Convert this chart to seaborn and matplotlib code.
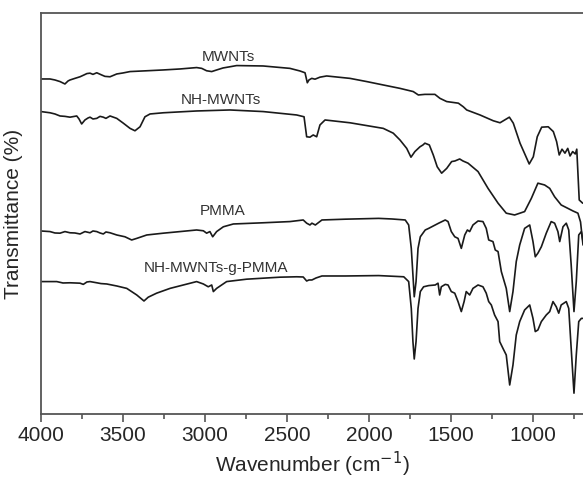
import matplotlib
matplotlib.use("Agg")
import matplotlib.pyplot as plt
import seaborn as sns
import pandas as pd
from matplotlib.ticker import MultipleLocator

# FTIR spectra (wavenumber in cm-1, transmittance in arbitrary offset units)
mwnts_wn = [4000, 3945, 3915, 3884, 3854, 3835, 3823, 3793, 3762, 3738, 3720, 3701, 3683, 3660,
            3630, 3610, 3579, 3538, 3500, 3457, 3355, 3256, 3152, 3051, 3020, 2990, 2959, 2929,
            2890, 2848, 2807, 2646, 2482, 2421, 2390, 2376, 2366, 2349, 2329, 2299, 2258, 2116,
            2014, 1913, 1811, 1730, 1699, 1659, 1628, 1598, 1567, 1526, 1455, 1425, 1404, 1323,
            1242, 1201, 1144, 1120, 1079, 1023, 998, 974, 947, 907, 876, 856, 840, 823, 805, 788,
            774, 758, 742, 733, 718, 697]
mwnts_t = [83.75, 83.75, 83.5, 83.1, 82.5, 83.25, 83.5, 83.9, 84.3, 84.75, 85.1, 85.2, 84.9, 85.3,
           84.75, 84.4, 84.3, 85.0, 85.25, 85.6, 85.8, 86.0, 86.25, 86.6, 86.4, 85.8, 85.6, 86.0,
           86.5, 86.8, 87.1, 87.0, 86.4, 85.75, 85.3, 82.8, 83.5, 83.9, 83.7, 84.2, 84.5, 83.9,
           83.1, 82.25, 81.4, 80.6, 79.75, 79.9, 79.9, 79.9, 78.9, 78.1, 77.7, 76.8, 76.0, 74.75,
           73.3, 72.8, 74.2, 72.7, 67.7, 62.5, 64.3, 69.3, 71.7, 71.8, 70.6, 68.1, 64.75, 66.2,
           65.2, 66.4, 64.5, 65.6, 65.0, 66.2, 53.5, 52.7]

nh_wn = [4000, 3945, 3915, 3884, 3854, 3823, 3782, 3768, 3752, 3732, 3713, 3701, 3683, 3660, 3640,
         3620, 3604, 3579, 3538, 3498, 3457, 3427, 3396, 3366, 3335, 3254, 3051, 2848, 2645, 2441,
         2396, 2380, 2360, 2340, 2319, 2299, 2268, 2116, 1913, 1852, 1811, 1770, 1744, 1720, 1689,
         1671, 1659, 1632, 1608, 1584, 1557, 1526, 1496, 1476, 1447, 1427, 1396, 1335, 1274, 1213,
         1163, 1112, 1051, 1010, 970, 929, 898, 868, 828, 787, 756, 726, 710, 695]
nh_t = [75.6, 75.3, 75.0, 74.5, 74.4, 74.2, 74.5, 73.75, 72.5, 73.5, 74.0, 74.2, 73.75, 73.9, 74.4,
        74.2, 73.9, 74.5, 73.9, 72.7, 71.4, 70.8, 71.8, 74.3, 75.0, 75.3, 75.75, 76.0, 75.6, 74.75,
        74.3, 69.3, 69.2, 69.75, 69.3, 72.25, 73.5, 72.8, 71.4, 70.2, 68.5, 66.4, 64.2, 65.6, 66.8,
        67.25, 67.7, 67.25, 64.75, 61.8, 60.2, 61.4, 63.1, 63.25, 63.75, 63.25, 62.7, 60.6, 56.4,
        52.7, 50.2, 49.75, 50.6, 53.9, 57.7, 57.25, 56.4, 54.3, 52.25, 51.4, 50.75, 50.2, 48.0, 42.25]

pmma_wn = [4000, 3945, 3915, 3884, 3854, 3823, 3793, 3762, 3732, 3701, 3683, 3660, 3640, 3620, 3604,
           3579, 3538, 3488, 3447, 3416, 3355, 3254, 3152, 3051, 3010, 2990, 2970, 2953, 2929, 2888,
           2827, 2645, 2482, 2401, 2380, 2360, 2348, 2327, 2287, 2144, 1941, 1860, 1779, 1758, 1742,
           1732, 1724, 1713, 1701, 1687, 1657, 1636, 1575, 1535, 1518, 1498, 1477, 1457, 1437, 1416,
           1400, 1386, 1366, 1335, 1305, 1285, 1270, 1244, 1230, 1213, 1193, 1163, 1142, 1122, 1102,
           1081, 1051, 1020, 1000, 986, 970, 949, 919, 889, 868, 848, 837, 817, 797, 782, 767, 750,
           736, 721, 705, 695]
pmma_t = [45.75, 45.6, 45.25, 45.2, 45.6, 45.3, 45.25, 45.0, 45.6, 45.3, 45.75, 45.6, 45.25, 45.0,
          45.5, 45.3, 44.75, 44.3, 43.5, 43.9, 44.75, 45.2, 45.6, 46.0, 45.8, 45.2, 45.6, 44.3, 45.6,
          46.8, 47.5, 47.8, 48.1, 48.5, 47.7, 47.25, 47.7, 47.25, 48.5, 48.7, 48.9, 48.75, 48.5,
          47.25, 41.4, 34.75, 29.3, 33.1, 41.4, 44.3, 46.0, 46.4, 47.7, 48.5, 48.1, 45.6, 44.3, 43.9,
          41.4, 44.75, 46.0, 45.6, 47.25, 48.25, 48.1, 46.4, 43.5, 43.1, 41.0, 40.6, 35.6, 31.4, 25.6,
          30.6, 38.1, 42.25, 46.4, 47.25, 43.1, 39.3, 40.2, 41.8, 45.2, 48.1, 47.7, 45.6, 43.1, 46.8,
          47.7, 46.0, 37.25, 25.6, 33.1, 44.75, 45.6, 43.1]

graft_wn = [4000, 3945, 3904, 3866, 3823, 3762, 3742, 3720, 3701, 3660, 3634, 3599, 3538, 3477, 3416,
            3372, 3346, 3295, 3213, 3132, 3051, 3010, 2980, 2959, 2949, 2929, 2868, 2746, 2543, 2441,
            2401, 2380, 2366, 2348, 2323, 2287, 2144, 1941, 1788, 1758, 1742, 1732, 1724, 1713, 1701,
            1687, 1667, 1636, 1596, 1579, 1569, 1559, 1535, 1518, 1498, 1477, 1457, 1437, 1420, 1407,
            1386, 1366, 1335, 1305, 1285, 1270, 1254, 1234, 1213, 1203, 1183, 1163, 1142, 1122, 1102,
            1081, 1051, 1020, 1000, 986, 970, 949, 919, 898, 878, 858, 843, 828, 797, 782, 767, 750,
            736, 721, 705, 695]
graft_t = [33.1, 33.1, 33.1, 32.75, 32.8, 32.7, 32.4, 33.0, 33.1, 32.8, 32.6, 32.5, 32.0, 31.4, 29.75,
           28.25, 29.2, 30.2, 31.4, 32.25, 33.1, 32.5, 31.8, 32.25, 30.6, 31.4, 33.1, 33.7, 34.2, 34.3,
           34.25, 33.25, 33.5, 33.5, 34.0, 34.5, 34.5, 34.6, 34.3, 33.1, 26.4, 18.1, 13.75, 18.1, 26.4,
           30.6, 31.8, 32.1, 32.25, 32.7, 29.75, 31.8, 32.4, 32.25, 30.6, 30.2, 28.1, 25.6, 28.1, 30.6,
           29.75, 31.4, 32.25, 31.8, 30.2, 28.1, 27.25, 24.75, 23.1, 18.1, 16.4, 14.75, 7.25, 12.25,
           19.75, 23.1, 26.0, 27.25, 23.9, 20.6, 21.0, 23.1, 24.75, 25.6, 28.1, 26.8, 25.2, 27.25, 28.1,
           26.4, 16.4, 5.2, 14.75, 23.1, 23.9, 23.9]

series_names = ["MWNTs", "NH-MWNTs", "PMMA", "NH-MWNTs-g-PMMA"]
label_wn = [2860, 2902, 2890, 2933]
label_t = [89.25, 78.5, 50.75, 36.6]

spectra = pd.concat([
    pd.DataFrame({"wavenumber": w, "transmittance": t, "sample": name})
    for name, w, t in zip(series_names,
                          [mwnts_wn, nh_wn, pmma_wn, graft_wn],
                          [mwnts_t, nh_t, pmma_t, graft_t])
], ignore_index=True)

sns.set_style("white")
plt.rcParams["font.family"] = ["Liberation Sans", "DejaVu Sans"]

fig = plt.figure(figsize=(5.83, 4.82), dpi=100)
ax = fig.add_axes([0.0703, 0.1411, 0.9297, 0.832])

sns.lineplot(data=spectra, x="wavenumber", y="transmittance", hue="sample",
             units="sample", estimator=None, sort=False,
             palette=["#1a1a1a"] * 4, linewidth=1.2, legend=False, ax=ax)

for name, x, y in zip(series_names, label_wn, label_t):
    ax.text(x, y, name, ha="center", va="center", fontsize=11, color="#333333")

ax.set_xlim(4000, 695)
ax.set_ylim(0, 100.25)
ax.xaxis.set_major_locator(MultipleLocator(500))
ax.xaxis.set_minor_locator(MultipleLocator(250))
ax.set_yticks([])
ax.tick_params(axis="x", which="major", direction="out", length=6, width=1.2,
               color="#555555", labelsize=15, pad=3, bottom=True)
ax.tick_params(axis="x", which="minor", direction="out", length=3.5, width=1.2,
               color="#555555", bottom=True)
ax.set_xlabel("Wavenumber (cm$^{-1}$)", fontsize=15, labelpad=3)
ax.set_ylabel("Transmittance (%)", fontsize=15)
ax.yaxis.set_label_coords(-0.034, 0.5)

for side in ["left", "bottom", "top"]:
    ax.spines[side].set_color("#555555")
    ax.spines[side].set_linewidth(1.3)
ax.spines["right"].set_visible(False)

fig.savefig("out.png", dpi=100)
